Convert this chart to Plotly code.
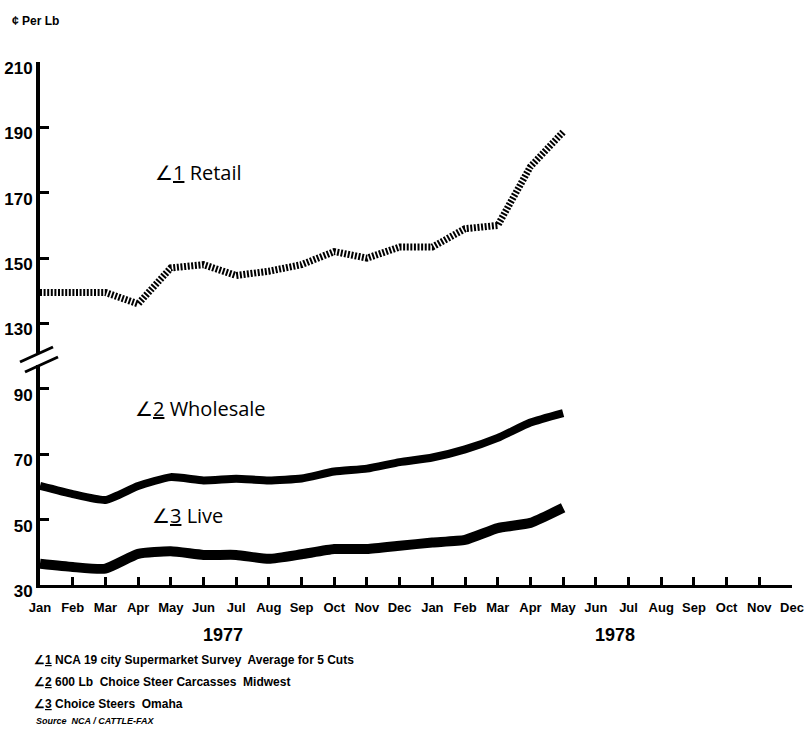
import plotly.graph_objects as go

# ---- data (cents per lb) ----
months = ["Jan", "Feb", "Mar", "Apr", "May", "Jun", "Jul", "Aug", "Sep", "Oct", "Nov", "Dec"]
years = ["1977", "1978"]
retail = [139.5, 139.5, 139.5, 136, 147, 148, 144.7, 146, 148, 152, 150, 153.4, 153.4, 159, 160, 178, 188.6]
wholesale = [60.3, 57.8, 56, 60.3, 63, 62, 62.5, 62, 62.6, 64.7, 65.6, 67.6, 69, 71.5, 75, 79.7, 82.6]
live = [36.5, 35.5, 35, 39.5, 40.3, 39.2, 39.2, 38, 39.4, 41, 41, 42, 43, 43.8, 47.4, 49, 53.6]
lower_ticks = [30, 50, 70, 90]
upper_ticks = [130, 150, 170, 190, 210]
BREAK_SHIFT = 20  # values >= 130 are drawn 20 units lower (broken axis)

footnotes = [
    ("1", "NCA 19 city Supermarket Survey  Average for 5 Cuts"),
    ("2", "600 Lb  Choice Steer Carcasses  Midwest"),
    ("3", "Choice Steers  Omaha"),
]
source = "Source  NCA / CATTLE-FAX"


def brk(v):
    return v - BREAK_SHIFT if v >= 130 else v


x_idx = list(range(len(retail)))
all_months = months * len(years)

# ---- layout geometry ----
W, H = 808, 729
L, R, T, B = 40, 16, 62, 144
PW, PH = W - L - R, H - T - B


def pxx(p):
    return (p - L) / PW


def pxy(p):
    return (H - B - p) / PH


fig = go.Figure()
fig.add_trace(go.Scatter(x=x_idx, y=[brk(v) for v in retail], mode="lines",
                         line=dict(color="black", width=7, dash="2px,1.6px"),
                         hoverinfo="skip"))
fig.add_trace(go.Scatter(x=x_idx, y=wholesale, mode="lines",
                         line=dict(color="black", width=8, shape="spline", smoothing=0.5),
                         hoverinfo="skip"))
fig.add_trace(go.Scatter(x=x_idx, y=live, mode="lines",
                         line=dict(color="black", width=10, shape="spline", smoothing=0.5),
                         hoverinfo="skip"))

tickfont = dict(family="Liberation Sans", size=17, color="black")
yvals = [brk(v) for v in lower_ticks + upper_ticks]
ytext = ["<b>%d</b>" % v for v in lower_ticks + upper_ticks]

fig.update_layout(
    width=W, height=H,
    margin=dict(l=L, r=R, t=T, b=B, autoexpand=False),
    plot_bgcolor="white", paper_bgcolor="white",
    showlegend=False,
    xaxis=dict(range=[0, len(all_months) - 1], tickvals=list(range(len(all_months))),
               ticktext=["<b>%s</b>" % m for m in all_months],
               tickfont=dict(family="Liberation Sans", size=13, color="black"),
               ticks="inside", ticklen=8, tickwidth=3, tickcolor="black",
               showline=True, linewidth=3, linecolor="black", automargin=False,
               showgrid=False, zeroline=False, ticklabelstandoff=8),
    yaxis=dict(range=[30, brk(210)], tickvals=yvals, ticktext=ytext, tickfont=tickfont,
               ticks="inside", ticklen=9, tickwidth=3, tickcolor="black",
               showline=True, linewidth=4, linecolor="black", automargin=False,
               showgrid=False, zeroline=False, ticklabelshift=6, ticklabelstandoff=0),
)

# axis break mark
fig.add_shape(type="rect", xref="paper", yref="paper",
              x0=pxx(34), x1=pxx(46), y0=pxy(365), y1=pxy(353),
              fillcolor="white", line=dict(width=0), layer="above")
for (x0, y0, x1, y1) in [(20, 362, 53, 347), (25, 372, 58, 357)]:
    fig.add_shape(type="line", xref="paper", yref="paper",
                  x0=pxx(x0), y0=pxy(y0), x1=pxx(x1), y1=pxy(y1),
                  line=dict(color="black", width=3), layer="above")

ann_font = dict(family="Open Sans", size=20, color="black")
labels = [("1", "Retail", 153, 172), ("2", "Wholesale", 133, 408), ("3", "Live", 150, 515)]
for num, name, xp, yp in labels:
    fig.add_annotation(text="∠<u>%s</u> %s" % (num, name), xref="paper", yref="paper",
                       x=pxx(xp), y=pxy(yp), xanchor="left", yanchor="middle",
                       showarrow=False, font=ann_font)

fig.add_annotation(text="<b>¢ Per Lb</b>", xref="paper", yref="paper",
                   x=pxx(10), y=pxy(21), xanchor="left", yanchor="middle", showarrow=False,
                   font=dict(family="Liberation Sans", size=12, color="black"))

for i, yr in enumerate(years):
    fig.add_annotation(text="<b>%s</b>" % yr, xref="x", yref="paper",
                       x=5.6 + 12 * i, y=pxy(635), xanchor="center", yanchor="middle",
                       showarrow=False, font=dict(family="Liberation Sans", size=18, color="black"))

for i, (num, txt) in enumerate(footnotes):
    fig.add_annotation(text="<b>∠<u>%s</u> %s</b>" % (num, txt), xref="paper", yref="paper",
                       x=pxx(32), y=pxy(660 + 22 * i), xanchor="left", yanchor="middle",
                       showarrow=False, font=dict(family="Liberation Sans", size=12, color="black"))
fig.add_annotation(text="<b><i>%s</i></b>" % source, xref="paper", yref="paper",
                   x=pxx(34), y=pxy(721), xanchor="left", yanchor="middle",
                   showarrow=False, font=dict(family="Liberation Sans", size=9, color="black"))

fig.write_html("out.html", config={"displayModeBar": False},
               post_script="document.body.style.margin='0';document.body.style.padding='0';")
